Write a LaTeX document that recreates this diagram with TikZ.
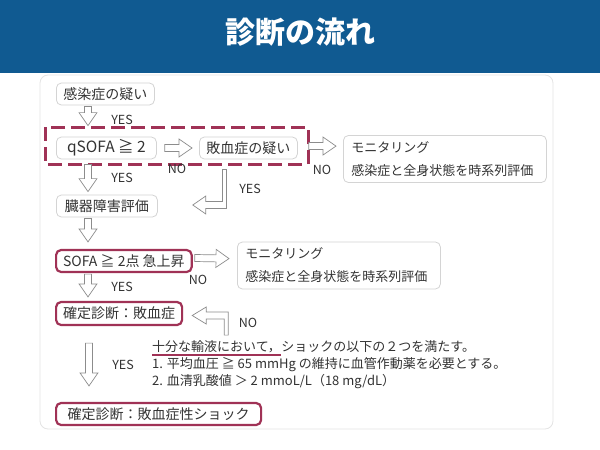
\documentclass[tikz,border=0pt]{standalone}
\usepackage{fontspec}
\newfontfamily\cjk{Noto Sans CJK JP}
\usetikzlibrary{calc}
\definecolor{headblue}{RGB}{16,90,145}
\definecolor{boxred}{RGB}{160,50,86}
\definecolor{boxgray}{RGB}{212,212,212}
\definecolor{panelgray}{RGB}{228,228,228}
\definecolor{linegray}{RGB}{140,140,140}
\definecolor{txtgray}{RGB}{51,51,51}
\tikzset{
  gbox/.style={draw=boxgray,line width=0.8pt,rounded corners=5pt,fill=white,
    minimum height=22pt,inner xsep=7pt,inner ysep=2pt,anchor=west,text=txtgray,
    font=\cjk\fontsize{14}{14}\selectfont},
  rbox/.style={gbox,draw=boxred,line width=2.2pt},
  monbox/.style={gbox,text width=187pt,align=left,inner xsep=8pt,inner ysep=6pt,
    font=\cjk\fontsize{13}{23}\selectfont},
  lbl/.style={text=txtgray,font=\cjk\fontsize{12.5}{12.5}\selectfont,inner sep=0pt},
  body/.style={lbl,anchor=west,font=\cjk\fontsize{13}{13}\selectfont},
  hollow/.style={draw=linegray,fill=white,line width=0.7pt,line join=miter,
    to path={($(\tikztotarget)!13pt!(\tikztostart)$) coordinate (hb)
      ($(\tikztostart)!3.5pt!90:(\tikztotarget)$)
      -- ($(hb)!3.5pt!90:(\tikztotarget)$) -- ($(hb)!9pt!90:(\tikztotarget)$)
      -- (\tikztotarget)
      -- ($(hb)!9pt!-90:(\tikztotarget)$) -- ($(hb)!3.5pt!-90:(\tikztotarget)$)
      -- ($(\tikztostart)!3.5pt!-90:(\tikztotarget)$) -- cycle}},
  elbowdown/.style={draw=linegray,fill=white,line width=0.7pt,line join=miter,
    to path={let \p1=(\tikztostart), \p2=(\tikztotarget) in
      (\x1-2pt,\y1) -- (\x1+2pt,\y1) -- (\x1+2pt,\y2-3.5pt) -- (\x2+13pt,\y2-3.5pt)
      -- (\x2+13pt,\y2-9pt) -- (\x2,\y2) -- (\x2+13pt,\y2+9pt) -- (\x2+13pt,\y2+3.5pt)
      -- (\x1-2pt,\y2+3.5pt) -- cycle}},
  elbowup/.style={draw=linegray,fill=white,line width=0.7pt,line join=miter,
    to path={let \p1=(\tikztostart), \p2=(\tikztotarget) in
      (\x1+2pt,\y1) -- (\x1+2pt,\y2+3.5pt) -- (\x2+14pt,\y2+3.5pt) -- (\x2+14pt,\y2+8.5pt)
      -- (\x2,\y2) -- (\x2+14pt,\y2-8.5pt) -- (\x2+14pt,\y2-3.5pt) -- (\x1-2pt,\y2-3.5pt)
      -- (\x1-2pt,\y1) -- cycle}}
}
\begin{document}
\begin{tikzpicture}[x=1pt,y=-1pt]
\useasboundingbox (0,0) rectangle (600,450);
% header and panel
\fill[headblue] (0,0) rectangle (600,73);
\node[text=white,font=\cjk\bfseries\fontsize{30}{30}\selectfont] (title) at (300,32) {診断の流れ};
\draw[panelgray,line width=0.8pt,rounded corners=8pt,fill=white] (40,75) rectangle (553,429);

% boxes
\node[gbox] (inf) at (56,94) {感染症の疑い};
\node[gbox,minimum width=100pt,font=\cjk\fontsize{15.5}{15.5}\selectfont] (qsofa) at (56,148) {qSOFA ≧ 2};
\node[gbox] (sus) at (199,148) {敗血症の疑い};
\node[monbox] (mon1) at (343,159) {モニタリング\\感染症と全身状態を時系列評価};
\node[gbox,minimum width=101pt] (organ) at (56,206) {臓器障害評価};
\node[rbox] (sofa) at (55,261) {SOFA ≧ 2点 急上昇};
\node[monbox] (mon2) at (237,265.5) {モニタリング\\感染症と全身状態を時系列評価};
\node[rbox,minimum height=23pt] (dx1) at (55,313.5) {確定診断：敗血症};
\node[rbox,minimum width=205pt] (dx2) at (55,414) {確定診断：敗血症性ショック};
\draw[boxred,line width=3pt,dash pattern=on 14pt off 6pt] (45,127) rectangle (308,164);

% criteria
\node[body] (t1a) at (152,347) {十分な輸液において，};
\node[body] (t1b) at (t1a.east) {ショックの以下の２つを満たす。};
\node[body] (t2) at (152,365) {1. 平均血圧 ≧ 65 mmHg の維持に血管作動薬を必要とする。};
\node[body] (t3) at (152,382) {2. 血清乳酸値 ＞ 2 mmoL/L（18 mg/dL）};
\draw[boxred,line width=2pt] ([yshift=-1.5pt]t1a.south west) -- ([yshift=-1.5pt]t1a.south east);

% arrows
\draw[hollow] ([xshift=32pt,yshift=-1pt]inf.south west) to ([xshift=32pt,yshift=11pt]qsofa.north west);
\draw[hollow] ([xshift=32pt,yshift=-5pt]qsofa.south west) to ([xshift=32pt,yshift=3pt]organ.north west);
\draw[hollow] ([xshift=32pt,yshift=-1pt]organ.south west) to ([xshift=33pt,yshift=7pt]sofa.north west);
\draw[hollow] ([xshift=33pt,yshift=-1pt]sofa.south west) to ([xshift=33pt,yshift=4pt]dx1.north west);
\draw[hollow] ([xshift=34pt,yshift=-17pt]dx1.south west) to ([xshift=34pt,yshift=16pt]dx2.north west);
\draw[hollow] ([xshift=8pt]qsofa.east) to ([xshift=-7pt]sus.west);
\draw[hollow] ([xshift=11pt,yshift=2pt]sus.east) to ([xshift=-7pt,yshift=-11pt]mon1.north west);
\draw[hollow] ([xshift=2pt,yshift=3pt]sofa.east) to ([xshift=-8pt,yshift=-17pt]mon2.north west);
\draw[elbowdown] ([xshift=-24pt,yshift=-10pt]sus.south) to ([xshift=35pt,yshift=1pt]organ.east);
\draw[elbowup] ([xshift=43pt,yshift=-9pt]dx1.south east) to ([xshift=9pt,yshift=-2pt]dx1.east);

% labels
\foreach \x/\y [count=\i] in {122/120,122/178,250/189,122/287,123/365}
  \node[lbl] (yes\i) at (\x,\y) {YES};
\foreach \x/\y [count=\i] in {177/169,322/170,198/280,248/323}
  \node[lbl] (no\i) at (\x,\y) {NO};
\end{tikzpicture}
\end{document}
